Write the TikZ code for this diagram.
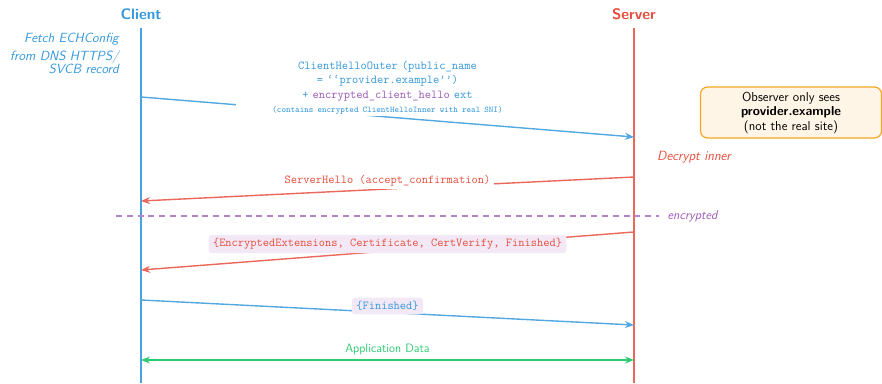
\documentclass[tikz,border=0pt]{standalone}
\usepackage{fontspec}
\usetikzlibrary{arrows.meta}
\definecolor{cblue}{HTML}{3498DB}
\definecolor{cred}{HTML}{E74C3C}
\definecolor{cgreen}{HTML}{2ECC71}
\definecolor{cpurple}{HTML}{9B59B6}
\definecolor{corange}{HTML}{F5A623}
\definecolor{notefill}{HTML}{FEF5E6}
\definecolor{lblfill}{HTML}{F3E9F6}
\begin{document}
\begin{tikzpicture}[x=1pt,y=-1pt,
  actor/.style={font=\fontsize{15.2}{18}\selectfont\sffamily\bfseries},
  life/.style={line width=1.4pt},
  msg/.style={line width=1.4pt,-{Stealth[length=9pt,width=7pt]}},
  mono/.style={font=\fontsize{12.1}{14.3}\selectfont\ttfamily},
  side/.style={font=\fontsize{13.3}{13}\selectfont\sffamily\itshape},
  plbl/.style={mono,fill=lblfill,rounded corners=3pt,inner xsep=4.5pt,inner ysep=3.6pt},
]
\useasboundingbox (0,0) rectangle (882,383);

% actors and lifelines
\node[actor,text=cblue] (client) at (141,14) {Client};
\node[actor,text=cred] (server) at (634,14) {Server};
\coordinate (ctop) at (141,28);
\coordinate (cbot) at (141,383);
\coordinate (stop) at (634,28);
\coordinate (sbot) at (634,383);
\draw[life,cblue!90!white] (ctop) -- (cbot);
\draw[life,cred!85!white] (stop) -- (sbot);

% side notes
\node[side,text=cblue,align=right,anchor=north east] (fetch) at (122.3,29.4)
  {Fetch ECHConfig\\[5pt]from DNS HTTPS/\\SVCB record};
\node[side,text=cred,anchor=west] (decrypt) at (653.7,157) {Decrypt inner};
\node[draw=corange,fill=notefill,line width=1.2pt,rounded corners=7pt,
      minimum width=181pt,minimum height=51pt,align=center,
      font=\fontsize{13}{14.5}\selectfont\sffamily] (note) at (791,112.5)
  {Observer only sees\\\textbf{provider.example}\\(not the real site)};

% message 1
\coordinate (m1a) at (141,97);
\coordinate (m1b) at (634,137);
\draw[msg,cblue!85!white] (m1a) -- (m1b)
  node[midway,above,yshift=0.8pt,fill=white,text width=297pt,align=center,
       mono,text=cblue,inner xsep=3.3pt,inner ysep=1pt] (lbl1)
  {ClientHelloOuter (public\_name\\= ‘‘provider.example’’)\\+ {\color{cpurple}encrypted\_client\_hello} ext\\
   {\fontsize{8.7}{10}\selectfont (contains encrypted ClientHelloInner with real SNI)}};

% message 2
\coordinate (m2a) at (634,177);
\coordinate (m2b) at (141,201);
\draw[msg,cred!85!white] (m2a) -- (m2b)
  node[midway,above,yshift=-1pt,fill=white,mono,text=cred] (lbl2)
  {ServerHello (accept\_confirmation)};

% encrypted divider
\coordinate (dl) at (116,216);
\coordinate (dr) at (659,216);
\draw[cpurple!75!white,line width=1.4pt,dash pattern=on 6pt off 4.8pt] (dl) -- (dr)
  node[right,xshift=4.7pt,side,text=cpurple,font=\fontsize{12.6}{14}\selectfont\sffamily\itshape] (enc) {encrypted};

% message 3
\coordinate (m3a) at (634,232);
\coordinate (m3b) at (141,270);
\draw[msg,cred!85!white] (m3a) -- (m3b)
  node[midway,yshift=7pt,plbl,text=cred] (lbl3)
  {\{EncryptedExtensions, Certificate, CertVerify, Finished\}};

% message 4
\coordinate (m4a) at (141,300);
\coordinate (m4b) at (634,325);
\draw[msg,cblue!85!white] (m4a) -- (m4b)
  node[midway,yshift=6.5pt,plbl,text=cblue] (lbl4) {\{Finished\}};

% application data
\coordinate (m5a) at (141,360);
\coordinate (m5b) at (634,360);
\draw[line width=1.4pt,cgreen,{Stealth[length=9pt,width=7pt]}-{Stealth[length=9pt,width=7pt]}] (m5a) -- (m5b)
  node[midway,above,yshift=1.5pt,font=\fontsize{12.2}{14}\selectfont\sffamily,text=cgreen] (lbl5) {Application Data};
\end{tikzpicture}
\end{document}
